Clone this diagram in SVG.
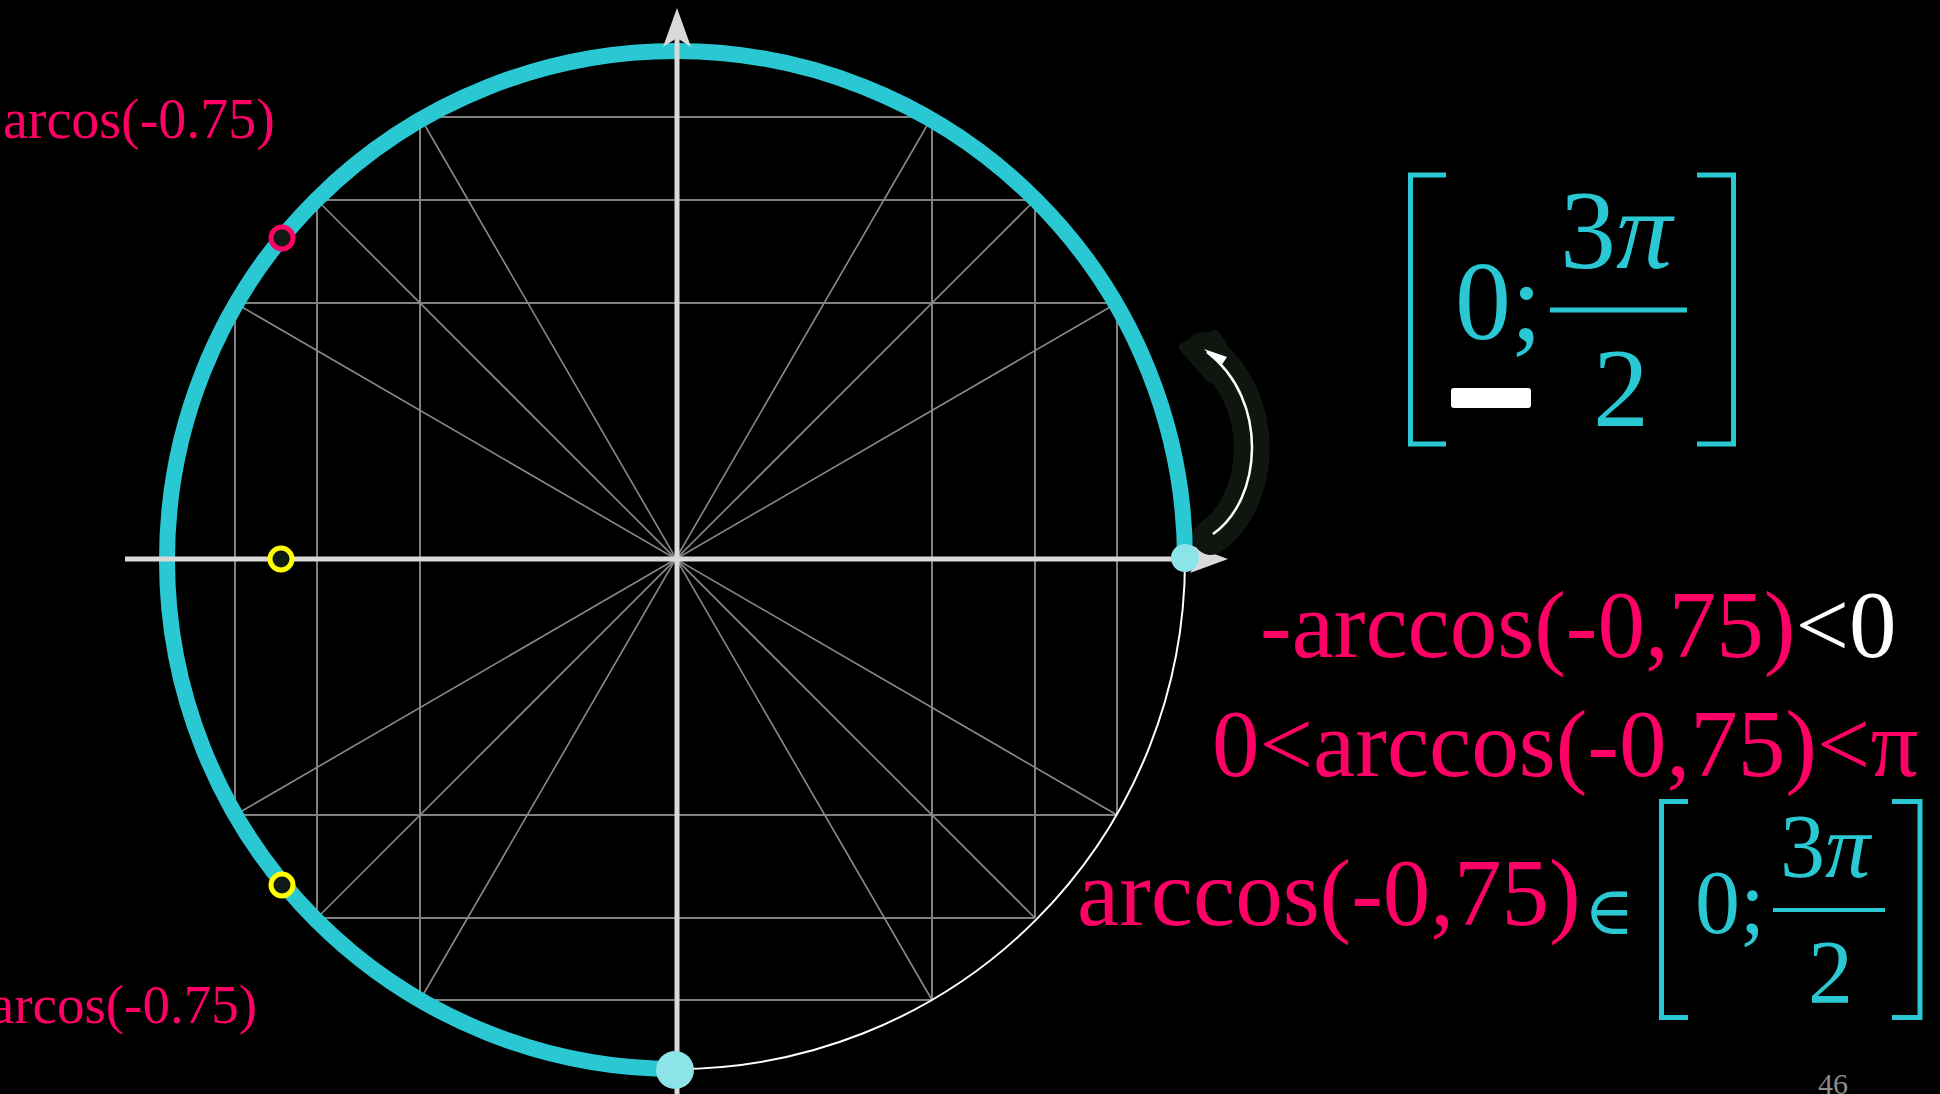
<svg xmlns="http://www.w3.org/2000/svg" width="1940" height="1094" viewBox="0 0 1940 1094">
<style>
.grid{stroke:#808080;stroke-width:2;fill:none}
.diag{stroke:#8a8a8a;stroke-width:1.6;fill:none}
.axis{stroke:#d9d9d9;stroke-width:5;fill:none}
.ah{fill:#d9d9d9}
.pink{fill:#ff0066}
.cy{fill:#29c8d3}
.serif{font-family:"Liberation Serif","Times New Roman","DejaVu Serif",serif}
.brk{stroke:#29c8d3;stroke-width:5;fill:none}
.mark{fill:#0f1a14;stroke-width:5}
</style>
<rect x="0" y="0" width="1940" height="1094" fill="#000"/>
<g id="grid">
<line class="grid" x1="420" y1="117" x2="932" y2="117"/>
<line class="grid" x1="317" y1="200" x2="1035" y2="200"/>
<line class="grid" x1="235" y1="303" x2="1117" y2="303"/>
<line class="grid" x1="235" y1="815" x2="1117" y2="815"/>
<line class="grid" x1="317" y1="918" x2="1035" y2="918"/>
<line class="grid" x1="420" y1="1000" x2="932" y2="1000"/>
<line class="grid" x1="235" y1="303" x2="235" y2="815"/>
<line class="grid" x1="317" y1="200" x2="317" y2="918"/>
<line class="grid" x1="420" y1="117" x2="420" y2="1000"/>
<line class="grid" x1="932" y1="117" x2="932" y2="1000"/>
<line class="grid" x1="1035" y1="200" x2="1035" y2="918"/>
<line class="grid" x1="1117" y1="303" x2="1117" y2="815"/>
<line class="diag" x1="420" y1="117" x2="932" y2="1000"/>
<line class="diag" x1="317" y1="200" x2="1035" y2="918"/>
<line class="diag" x1="235" y1="303" x2="1117" y2="815"/>
<line class="diag" x1="932" y1="117" x2="420" y2="1000"/>
<line class="diag" x1="1035" y1="200" x2="317" y2="918"/>
<line class="diag" x1="1117" y1="303" x2="235" y2="815"/>
</g>
<g id="circle">
<circle cx="676" cy="560" r="509" fill="none" stroke="#ffffff" stroke-width="2"/>
<path d="M1185 560 A509 509 0 1 0 676 1069" fill="none" stroke="#29c8d3" stroke-width="16"/>
</g>
<g id="axes">
<line class="axis" x1="125" y1="559" x2="1200" y2="559"/>
<polygon class="ah" points="1228,559 1190,545 1199,559 1190,573"/>
<line class="axis" x1="677" y1="38" x2="677" y2="1094"/>
<polygon class="ah" points="677,8 691,47 677,38 663,47"/>
</g>
<g id="curved-arrow">
<path d="M1211,537 C1262,502 1271,400 1204,350" fill="none" stroke="#0f1610" stroke-width="36" stroke-linecap="round"/>
<polygon points="1184,347 1215,335 1222,345 1219,382 1209,376" fill="#0f1610" stroke="#0f1610" stroke-width="10" stroke-linejoin="round"/>
<path d="M1213,534 C1262,500 1270,400 1207,352" fill="none" stroke="#ffffff" stroke-width="2.5"/>
<polygon points="1204,349 1227,357 1221,366" fill="#ffffff"/>
</g>
<g id="points">
<circle cx="1185" cy="558" r="14" fill="#8de4e8"/>
<circle cx="675" cy="1070" r="19" fill="#8de4e8"/>
<circle class="mark" cx="282" cy="238" r="11" stroke="#ff0066"/>
<circle class="mark" cx="281" cy="559" r="11" stroke="#ffff00"/>
<circle class="mark" cx="282" cy="885" r="11" stroke="#ffff00"/>
</g>
<g id="labels" class="serif">
<text class="pink" x="275" y="138" font-size="56" text-anchor="end">arcos(-0.75)</text>
<text class="pink" x="257" y="1023" font-size="55" text-anchor="end">arcos(-0.75)</text>
<text x="1260" y="657" font-size="95"><tspan class="pink">-arccos(-0,75)</tspan><tspan fill="#ffffff">&lt;0</tspan></text>
<text class="pink" x="1212" y="776" font-size="95">0&lt;arccos(-0,75)&lt;π</text>
<text class="pink" x="1077" y="925" font-size="95">arccos(-0,75)</text>
<text class="cy" x="1584" y="934" font-size="68">∈</text>
<text x="1818" y="1094" font-size="30" fill="#8c8c8c">46</text>
</g>
<g id="interval-top" class="serif">
<path class="brk" d="M1446 175 H1410.5 V444 H1446"/>
<path class="brk" d="M1697 175 H1733.5 V444 H1697"/>
<text class="cy" x="1455" y="339" font-size="112">0;</text>
<text class="cy" x="1560" y="268" font-size="112">3<tspan font-style="italic">π</tspan></text>
<line x1="1550" y1="310" x2="1687" y2="310" stroke="#29c8d3" stroke-width="5"/>
<text class="cy" x="1593" y="426" font-size="112">2</text>
<rect x="1451" y="388" width="80" height="20" rx="3" fill="#ffffff"/>
</g>
<g id="interval-bottom" class="serif">
<path class="brk" d="M1688 801.5 H1661.5 V1017.5 H1688"/>
<path class="brk" d="M1892 801.5 H1920 V1017.5 H1892"/>
<text class="cy" x="1695" y="933" font-size="90">0;</text>
<text class="cy" x="1780" y="877" font-size="90">3<tspan font-style="italic">π</tspan></text>
<line x1="1773" y1="910" x2="1885" y2="910" stroke="#29c8d3" stroke-width="4"/>
<text class="cy" x="1808" y="1003" font-size="90">2</text>
</g>
</svg>
